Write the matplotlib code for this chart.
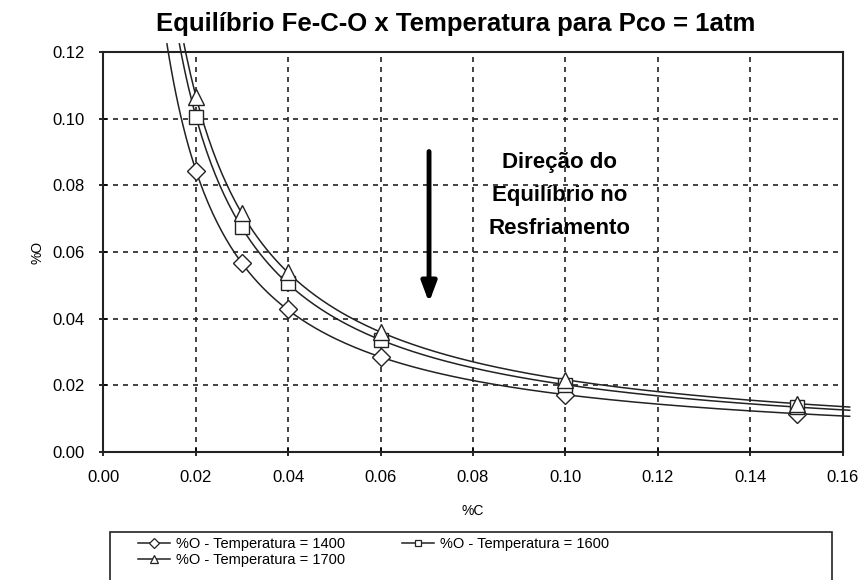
import numpy as np
import matplotlib
matplotlib.use("Agg")
import matplotlib.pyplot as plt
from matplotlib.patches import Rectangle

plt.rcParams['font.family'] = ['Liberation Sans', 'DejaVu Sans']

# Carbon content where the markers sit
carbon = [0.02, 0.03, 0.04, 0.06, 0.10, 0.15]

# Oxygen content for each temperature
oxygen_1400 = [0.0842, 0.0567, 0.0430, 0.0286, 0.0170, 0.0115]
oxygen_1600 = [0.1005, 0.0676, 0.0507, 0.0336, 0.0200, 0.0135]
oxygen_1700 = [0.1066, 0.0717, 0.0541, 0.0361, 0.0215, 0.0145]

series = [
    ("%O - Temperatura = 1400", oxygen_1400, "D", 9.5),
    ("%O - Temperatura = 1600", oxygen_1600, "s", 10),
    ("%O - Temperatura = 1700", oxygen_1700, "^", 12),
]

fig = plt.figure(figsize=(8.67, 5.8), dpi=100)
ax = fig.add_axes([0.119, 0.221, 0.853, 0.689])

handles = []
for label, oxy, marker, ms in series:
    # power trendline fitted to the points (O = a * C^b)
    b, log_a = np.polyfit(np.log(carbon), np.log(oxy), 1)
    a = np.exp(log_a)
    x_start = (0.1225 / a) ** (1 / b)
    xs = np.linspace(x_start, 0.1615, 300)
    ax.plot(xs, a * xs ** b, color="#222222", lw=1.1, clip_on=False, zorder=3)
    ax.plot(carbon, oxy, linestyle="none", marker=marker, ms=ms, mfc="white",
            mec="#222222", mew=1.0, zorder=4)
    h, = ax.plot([], [], color="#222222", lw=1.1, marker=marker, ms=ms * 0.5,
                 mfc="white", mec="#222222", mew=0.9, label=label)
    handles.append(h)

ax.set_xlim(0, 0.16)
ax.set_ylim(0, 0.12)
ax.set_xticks(np.arange(0, 0.161, 0.02))
ax.set_yticks(np.arange(0, 0.121, 0.02))
ax.xaxis.set_major_formatter(plt.FormatStrFormatter("%.2f"))
ax.yaxis.set_major_formatter(plt.FormatStrFormatter("%.2f"))
ax.tick_params(labelsize=12, length=6, width=1.2, direction="inout")
ax.tick_params(axis="x", pad=10)
ax.tick_params(axis="y", pad=10)
ax.grid(True, color="#222222", linestyle=(0, (3, 3)), lw=1.2)
for s in ax.spines.values():
    s.set_linewidth(1.5)
    s.set_color("#222222")

ax.set_xlabel("%C", fontsize=10, labelpad=14)
ax.set_ylabel("%O", fontsize=10, labelpad=6)
fig.text(0.526, 1 - 24 / 580, "Equilíbrio Fe-C-O x Temperatura para Pco = 1atm",
         fontsize=18.5, fontweight="bold", ha="center", va="center")

# arrow and annotation
ax.annotate("", xy=(0.0705, 0.044), xytext=(0.0705, 0.091),
            arrowprops=dict(arrowstyle="-|>,head_width=0.45,head_length=1.2",
                            color="black", lw=3.5))
ax.text(0.0988, 0.0771, "Direção do\nEquilíbrio no\nResfriamento", ha="center",
        va="center", fontsize=16, fontweight="bold", linespacing=1.75, zorder=1)

# legend box drawn separately so the columns can sit close together
fig.patches.append(Rectangle((110 / 867, -0.01), 722 / 867, 0.01 + 48 / 580,
                             transform=fig.transFigure, fill=False,
                             edgecolor="#222222", lw=1.2))
order = [handles[0], handles[2], handles[1]]
fig.legend(handles=order, labels=[h.get_label() for h in order],
           loc="upper left", bbox_to_anchor=(138 / 867, 1 - 537 / 580),
           ncol=2, fontsize=10.5, frameon=False, handlelength=2.2,
           borderpad=0, borderaxespad=0, labelspacing=0.15,
           handletextpad=0.4, columnspacing=3.9)

fig.savefig("out.png", dpi=100)
